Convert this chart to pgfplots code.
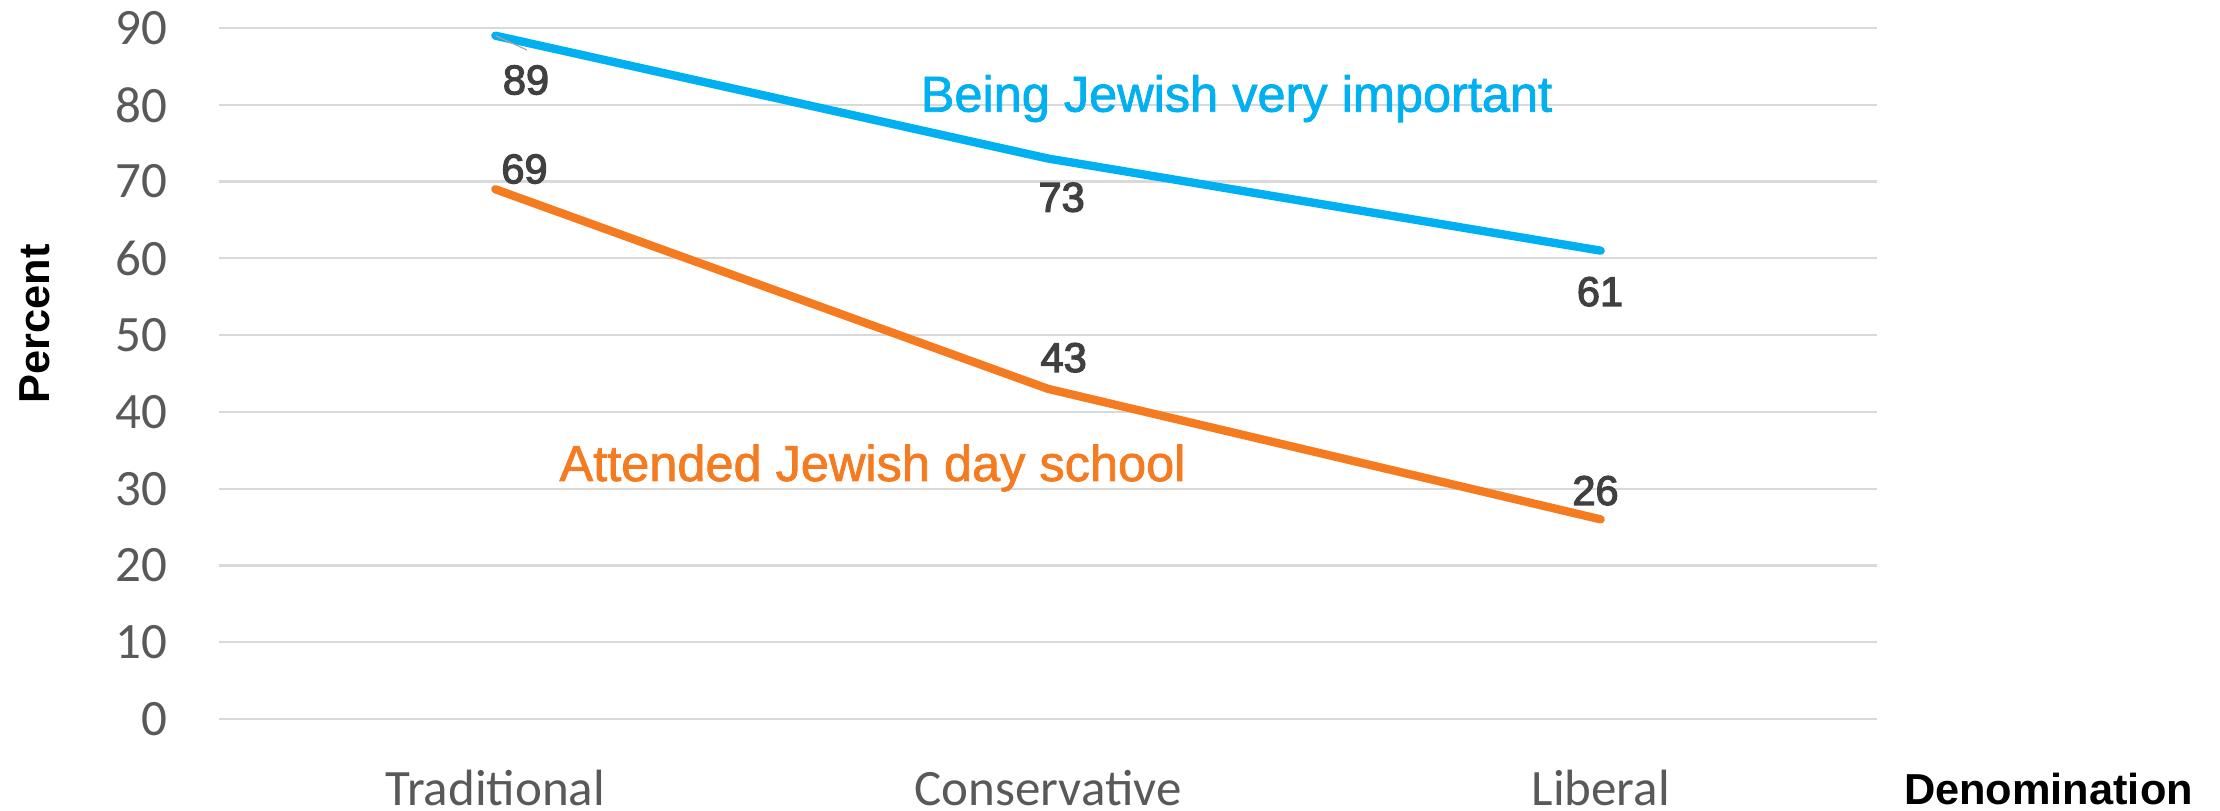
\documentclass[border=0pt]{standalone}
\usepackage{pgfplots}
\pgfplotsset{compat=1.18}
\usepackage{fontspec}
\setmainfont{Liberation Sans}
\newfontfamily\tickfont{Carlito}
\newfontfamily\lblfont[FakeBold=3]{Liberation Sans}
\newfontfamily\annfont[FakeBold=1.5]{Liberation Sans}
\definecolor{jblue}{HTML}{00B0F0}
\definecolor{jorange}{HTML}{F47B20}
\definecolor{tickgray}{HTML}{595959}
\definecolor{lblgray}{HTML}{404040}
\definecolor{gridgray}{HTML}{D9D9D9}
\begin{document}
\begin{tikzpicture}
\useasboundingbox (-65.7pt,-27.6pt) rectangle (600.3pt,215.7pt);
\begin{axis}[
  scale only axis, width=497.4pt, height=207.3pt,
  xmin=-0.5, xmax=2.5, ymin=0, ymax=90,
  xtick={0,1,2}, xticklabels={Traditional,Conservative,Liberal},
  ytick={0,10,...,90},
  axis line style={draw=none},
  major tick length=0pt,
  ymajorgrids, grid style={gridgray, line width=0.65pt},
  tick label style={font=\tickfont\fontsize{15.3}{17}\selectfont, text=tickgray},
  yticklabel style={anchor=east, inner sep=0pt, xshift=-15.3pt},
  xticklabel style={anchor=base, inner sep=0pt, yshift=-25.8pt},
  /pgf/number format/assume math mode=true,
  clip=false,
]
\addplot[jblue, line width=2.5pt, line cap=round, line join=round, mark=none] coordinates {(0,89) (1,73) (2,61)};
\addplot[jorange, line width=2.5pt, line cap=round, line join=round, mark=none] coordinates {(0,69) (1,43) (2,26)};
\end{axis}
% leader line
\draw[color=gray!70, line width=0.35pt] (83.1pt,204.9pt) -- (92.4pt,200.7pt);
% data labels
\begin{scope}[every node/.style={anchor=base, inner sep=0pt, text=lblgray, font=\lblfont\fontsize{12.45}{14}\selectfont}]
\node at (92.1pt,187.4pt) {89};
\node at (91.65pt,160.7pt) {69};
\node at (252.8pt,152.2pt) {73};
\node at (253.4pt,104.1pt) {43};
\node at (414.3pt,123.9pt) {61};
\node at (412.95pt,64.2pt) {26};
\end{scope}
% series annotations
\node[anchor=base, inner sep=0pt, text=jblue, font=\annfont\fontsize{15.15}{17}\selectfont] at (305.25pt,182.2pt) {Being Jewish very important};
\node[anchor=base, inner sep=0pt, text=jorange, font=\annfont\fontsize{15.15}{17}\selectfont] at (196.05pt,71.4pt) {Attended Jewish day school};
% axis titles
\node[anchor=base, inner sep=0pt, font=\bfseries\fontsize{13}{15}\selectfont] at (548.85pt,-25.8pt) {Denomination};
\node[rotate=90, anchor=center, inner sep=0pt, font=\bfseries\fontsize{13}{15}\selectfont] at (-55.2pt,118.5pt) {Percent};
\end{tikzpicture}
\end{document}
